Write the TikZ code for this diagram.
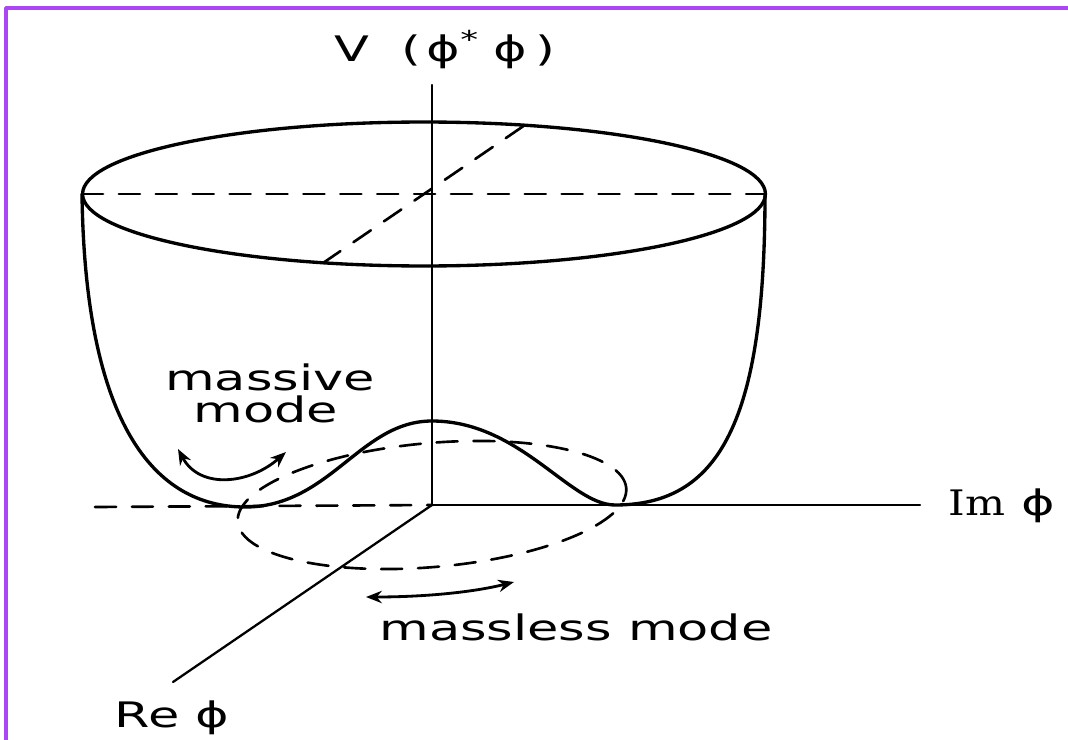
\documentclass[tikz,border=0pt]{standalone}
\usepackage{fontspec}
\usetikzlibrary{arrows.meta}
\newfontfamily\lblfont[FakeStretch=1.45]{DejaVu Sans}
\newfontfamily\imfont[FakeStretch=1.2]{DejaVu Serif}
\definecolor{framepurple}{RGB}{170,70,245}
\tikzset{bowl/.style={line width=1.9pt,black},
	axis/.style={line width=1.3pt,black},
	hidden/.style={line width=1.5pt,black,dash pattern=on 12pt off 9pt},
	mode arrow/.style={{Stealth[length=9pt,width=7pt]}-{Stealth[length=9pt,width=7pt]},line width=1.6pt}}
\begin{document}
\begin{tikzpicture}[x=0.02cm,y=-0.02cm,line join=round,line cap=round,font=\lblfont\fontsize{20}{24}\selectfont]
			\useasboundingbox (0,0) rectangle (1068,740);
			\draw[line width=2pt,framepurple] (1068,8)--(6,8)--(6,740);
			\coordinate (O) at (432,505);
			\coordinate (Vtop) at (432,85);
			\coordinate (Imend) at (920,505);
			\coordinate (Reend) at (173,682);
			\coordinate (Dend) at (95,507);
			\coordinate (C) at (424,194);
			\coordinate (L) at (82,194);
			\coordinate (R) at (765,194);
			\coordinate (T1) at (323,263);
			\coordinate (T2) at (525,125);
			\coordinate (Ml) at (245,507);
			\coordinate (P) at (432,421);
			\coordinate (Mr) at (615,505);
			\coordinate (A1) at (178,449);
			\coordinate (A2) at (286,452);
			\coordinate (B1) at (366,597);
			\coordinate (B2) at (514,582);
			\draw[axis] (O)--(Vtop);
			\draw[axis] (O)--(Imend);
			\draw[axis] (O)--(Reend);
			\draw[hidden] (Dend)--(O);
			\draw[bowl] (C) ellipse [x radius=6.83cm,y radius=1.44cm];
			\draw[hidden] (L)--(R);
			\draw[hidden] (T1)--(T2);
			\draw[bowl] (L) .. controls (85,425) and (155,507) .. (Ml) .. controls (330,507) and (360,421) .. (P) .. controls (520,421) and (570,505) .. (Mr) .. controls (720,505) and (765,420) .. (R);
			\draw[hidden,rotate around={5:(O)}] (O) ellipse [x radius=3.9cm,y radius=1.24cm];
			\draw[mode arrow] (A1) .. controls (200,490) and (250,484) .. (A2);
			\draw[mode arrow] (B1) .. controls (420,597) and (470,593) .. (B2);
			\node[anchor=base] (vlab) at (445,62) {V\hspace{0.9em}(\,ϕ\textsuperscript{*}\hspace{0.4em}ϕ\hspace{0.25em})};
			\node[anchor=base] (imlab) at (1002,515) {{\imfont Im} ϕ};
			\node[anchor=base] (relab) at (172,727) {Re ϕ};
			\node[anchor=base] (mvlab) at (270,390) {massive};
			\node[anchor=base] (mdlab) at (266,422) {mode};
			\node[anchor=base] (mllab) at (576,640) {massless mode};
\end{tikzpicture}
\end{document}
